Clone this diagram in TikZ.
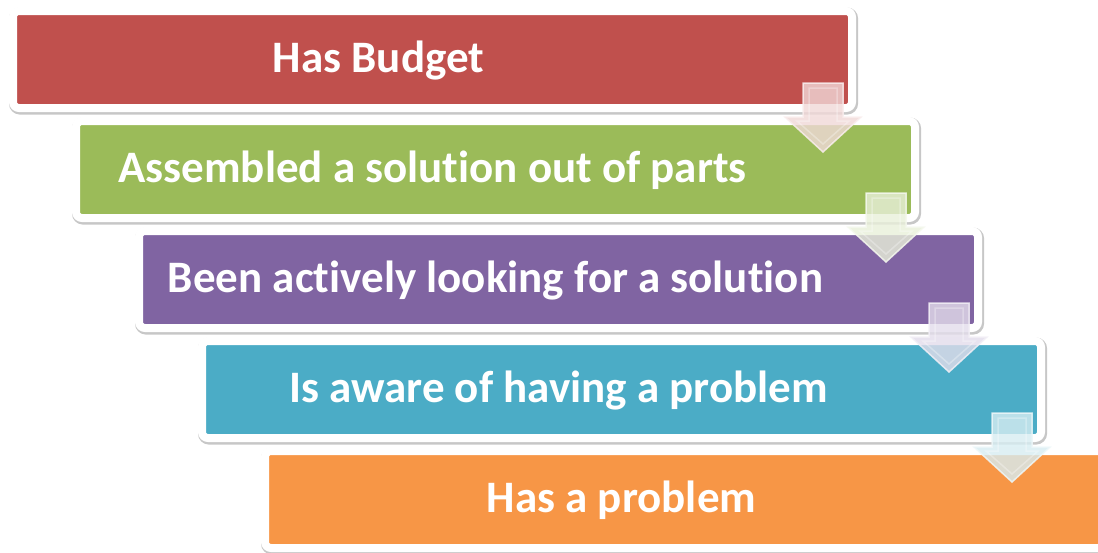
\documentclass[tikz,border=0pt]{standalone}
\usepackage{fontspec}
\setmainfont[Ligatures={NoCommon,NoContextual}, Contextuals=NoAlternate]{Carlito}
\definecolor{budgetred}{HTML}{C0504D}
\definecolor{partsgreen}{HTML}{9BBB59}
\definecolor{lookpurple}{HTML}{8064A2}
\definecolor{awareblue}{HTML}{4BACC6}
\definecolor{problemorange}{HTML}{F79646}
% keeps t and i apart (Carlito would join them)
\newcommand\nolig{\kern0pt{}}
% block arrow between two stages: #1 top centre of the arrow, #2 colour
\newcommand\stagearrow[2]{%
  \begin{scope}[shift={(#1)}]
    \filldraw[fill=#2!22!white, draw=#2!10!white, line width=1.5pt, fill opacity=.8, draw opacity=.85]
      (-20,0) -- (20,0) -- (20,34) -- (38,34) -- (0,69) -- (-38,34) -- (-20,34) -- cycle;
    \draw[white, opacity=.3, line width=1.5pt]
      (-14,5) -- (14,5) -- (14,38) -- (26,38) -- (0,61) -- (-26,38) -- (-14,38) -- cycle;
  \end{scope}}
\begin{document}
\begin{tikzpicture}[x=1pt, y=-1pt,
    stage/.style ={rectangle, rounded corners=6pt, draw=white, line width=8pt, fill=#1,
                   minimum width=839pt, minimum height=97pt, inner sep=0pt,
                   preaction={draw=black!22, line width=10pt, transform canvas={shift={(1pt,-1.5pt)}}}},
    stagetext/.style ={anchor=base, text=white, font=\fontsize{45}{50}\selectfont\bfseries, inner sep=0pt}]
   \useasboundingbox (0,0) rectangle (1098,552);
   \node[stage=budgetred]     (b1) at (432.5,59.5)  {};
   \node[stage=partsgreen]    (b2) at (495.5,169.5) {};
   \node[stage=lookpurple]    (b3) at (558.5,279.5) {};
   \node[stage=awareblue]     (b4) at (621.5,389.5) {};
   \node[stage=problemorange] (b5) at (684.5,499.5) {};

   \node[stagetext] (t1) at ([shift={(-54pt,-13pt)}]b1.center) {Has Budget};
   \node[stagetext] (t2) at ([shift={(-63pt,-13pt)}]b2.center) {Assembled a solut\nolig ion out of parts};
   \node[stagetext] (t3) at ([shift={(-63pt,-13pt)}]b3.center) {Been act\nolig ively looking for a solut\nolig ion};
   \node[stagetext] (t4) at ([shift={(-63pt,-13pt)}]b4.center) {Is aware of having a problem};
   \node[stagetext] (t5) at ([shift={(-63pt,-13pt)}]b5.center) {Has a problem};

   \coordinate (a1) at ([shift={(-33pt,29pt)}]b1.south east);
   \coordinate (a2) at ([shift={(-33pt,29pt)}]b2.south east);
   \coordinate (a3) at ([shift={(-33pt,29pt)}]b3.south east);
   \coordinate (a4) at ([shift={(-33pt,29pt)}]b4.south east);
   \stagearrow{a1}{budgetred}
   \stagearrow{a2}{partsgreen}
   \stagearrow{a3}{lookpurple}
   \stagearrow{a4}{awareblue}
 \end{tikzpicture}
\end{document}
